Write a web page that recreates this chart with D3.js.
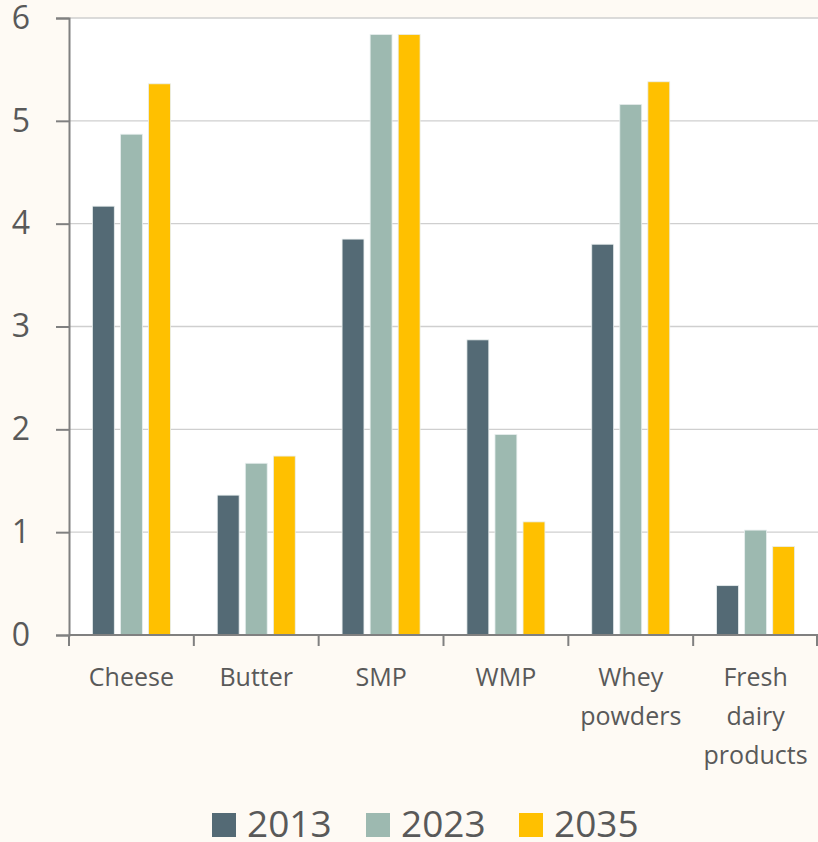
<!DOCTYPE html>
<html>
<head>
<meta charset="utf-8">
<script src="https://cdn.jsdelivr.net/npm/d3@7"></script>
<style>
	body { margin: 0; background: #fefaf4; }
	svg { display: block; font-family: "Open Sans", sans-serif; }
</style>
</head>
<body>
<div id="chart"></div>
<script>
var categories = ["Cheese", "Butter", "SMP", "WMP", "Whey\npowders", "Fresh\ndairy\nproducts"];
var years = ["2013", "2023", "2035"];
var v2013 = [4.17, 1.36, 3.85, 2.87, 3.80, 0.48];
var v2023 = [4.87, 1.67, 5.84, 1.95, 5.16, 1.02];
var v2035 = [5.36, 1.74, 5.84, 1.10, 5.38, 0.86];
var yTicks = [0, 1, 2, 3, 4, 5, 6];
var colors = ["#546a75", "#9db9b0", "#ffc000"];

var width = 818, height = 842;
var pLeft = 69, pRight = 818, pTop = 18, pBottom = 635;

var series = [v2013, v2023, v2035];
var data = categories.map(function(c, i) {
	return {cat: c, vals: series.map(function(s, j) { return {year: years[j], v: s[i]}; })};
});

var svg = d3.select("#chart").append("svg").attr("width", width).attr("height", height);

var x = d3.scaleBand().domain(categories).range([pLeft, pRight]);
var y = d3.scaleLinear().domain([0, 6]).range([pBottom, pTop]);
var xi = d3.scaleBand().domain(years).range([x.bandwidth() / 2 - 39, x.bandwidth() / 2 + 39]).paddingInner(0.22);

// plot area
svg.append("rect")
	.attr("x", pLeft).attr("y", pTop)
	.attr("width", pRight - pLeft).attr("height", pBottom - pTop)
	.attr("fill", "#ffffff");

// gridlines
svg.append("g").selectAll("line").data(yTicks.slice(1)).enter().append("line")
	.attr("x1", pLeft).attr("x2", pRight)
	.attr("y1", function(d) { return y(d); }).attr("y2", function(d) { return y(d); })
	.attr("stroke", "#cfcfcf").attr("stroke-width", 1.3);

// bars
var groups = svg.append("g").selectAll("g").data(data).enter().append("g")
	.attr("transform", function(d) { return "translate(" + x(d.cat) + ",0)"; });

groups.selectAll("rect").data(function(d) { return d.vals; }).enter().append("rect")
	.attr("x", function(d) { return xi(d.year); })
	.attr("width", xi.bandwidth())
	.attr("y", function(d) { return y(d.v); })
	.attr("height", function(d) { return y(0) - y(d.v); })
	.attr("fill", function(d, j) { return colors[j]; })
	.attr("stroke", "#e8eeee").attr("stroke-width", 0.8);

// y axis
var yAxis = d3.axisLeft(y).tickValues(yTicks).tickFormat(d3.format("d")).tickSize(13).tickPadding(26);
var yg = svg.append("g").attr("transform", "translate(" + pLeft + ",0)").call(yAxis);
yg.select(".domain").attr("stroke", "#808080").attr("stroke-width", 2);
yg.selectAll(".tick line").attr("stroke", "#808080").attr("stroke-width", 2);
yg.selectAll(".tick text").attr("fill", "#595959").attr("font-size", 32)
	.attr("font-family", "Open Sans, sans-serif");

// x axis
svg.append("line")
	.attr("x1", pLeft).attr("x2", pRight).attr("y1", pBottom).attr("y2", pBottom)
	.attr("stroke", "#808080").attr("stroke-width", 2);
var bounds = categories.map(function(c) { return x(c); }).concat([pRight - 1]);
svg.append("g").selectAll("line").data(bounds).enter().append("line")
	.attr("x1", function(d) { return d; }).attr("x2", function(d) { return d; })
	.attr("y1", pBottom).attr("y2", pBottom + 11)
	.attr("stroke", "#808080").attr("stroke-width", 2);

var labels = svg.append("g").selectAll("text").data(categories).enter().append("text")
	.attr("x", function(d) { return x(d) + x.bandwidth() / 2; })
	.attr("y", 686)
	.attr("text-anchor", "middle")
	.attr("fill", "#595959")
	.attr("font-size", 25);
labels.selectAll("tspan").data(function(d) { return d.split("\n"); }).enter().append("tspan")
	.attr("x", function() { return d3.select(this.parentNode).attr("x"); })
	.attr("dy", function(d, i) { return i ? 39 : 0; })
	.text(function(d) { return d; });

// legend
var legendX = [212, 366, 519];
var lg = svg.append("g").selectAll("g").data(years).enter().append("g")
	.attr("transform", function(d, i) { return "translate(" + legendX[i] + ",813)"; });
lg.append("rect").attr("width", 24).attr("height", 24)
	.attr("fill", function(d, i) { return colors[i]; });
lg.append("text").attr("x", 35).attr("y", 24)
	.attr("fill", "#595959").attr("font-size", 37)
	.text(function(d) { return d; });
</script>
</body>
</html>
